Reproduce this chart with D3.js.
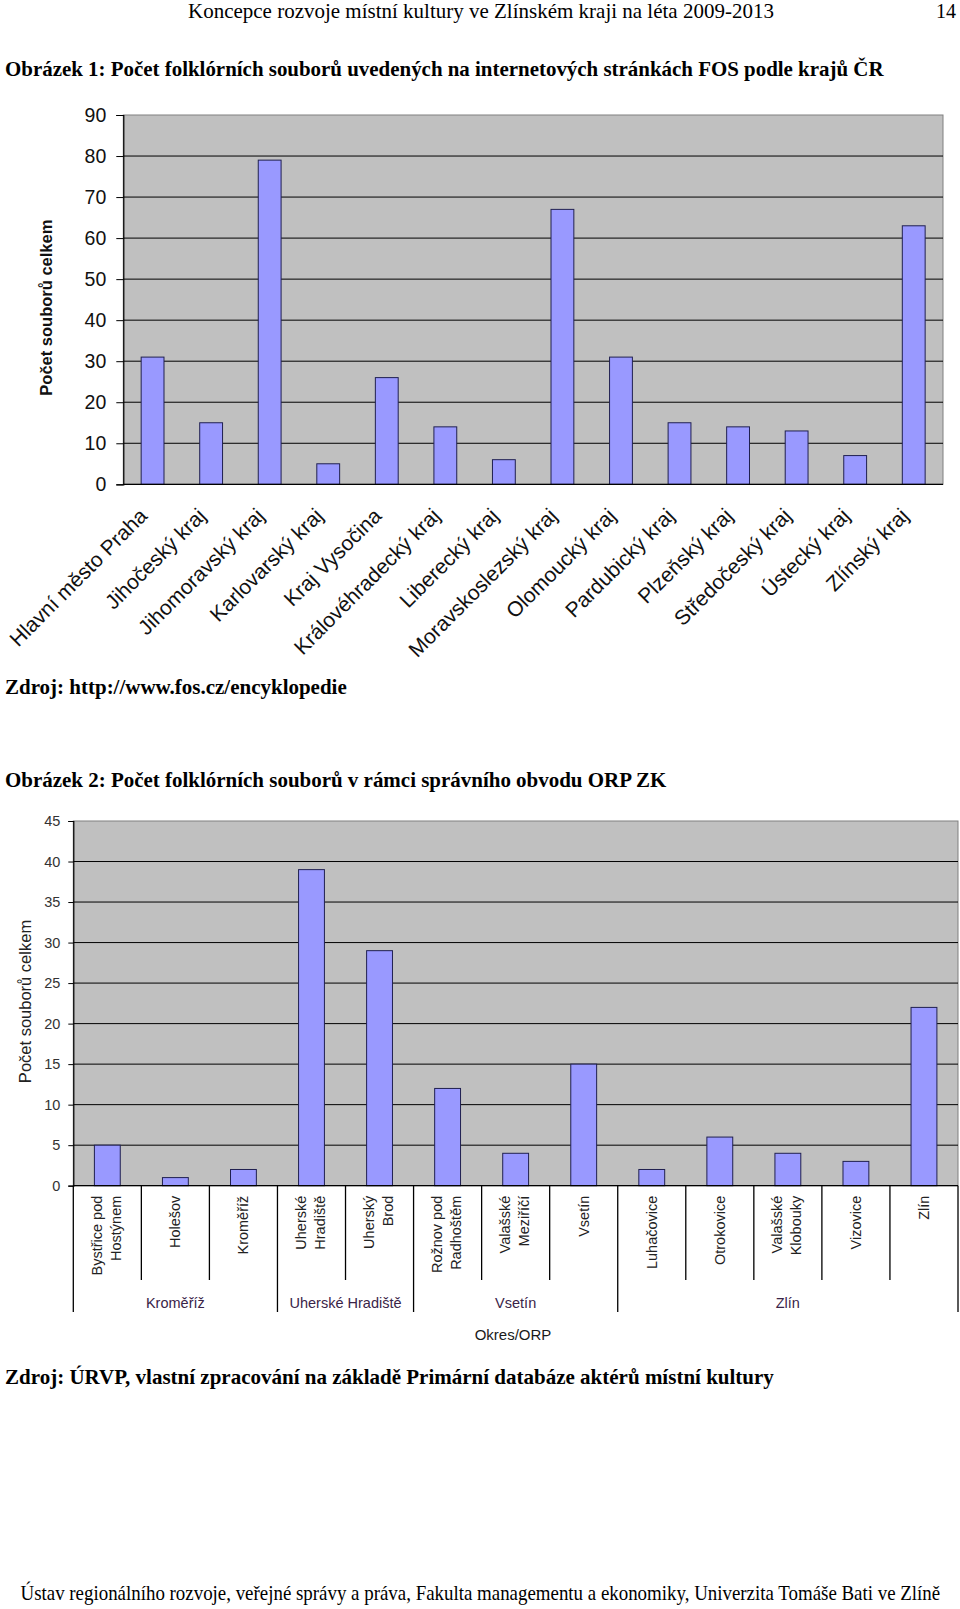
<!DOCTYPE html>
<html><head><meta charset="utf-8">
<script src="https://cdn.jsdelivr.net/npm/d3@7"></script>
<style>body{margin:0;background:#fff} svg{display:block}</style>
</head><body>
<svg id="page" width="960" height="1609"></svg>
<script>
// ---------- DATA ----------
const regions = ["Hlavní město Praha","Jihočeský kraj","Jihomoravský kraj","Karlovarský kraj","Kraj Vysočina","Královéhradecký kraj","Liberecký kraj","Moravskoslezský kraj","Olomoucký kraj","Pardubický kraj","Plzeňský kraj","Středočeský kraj","Ústecký kraj","Zlínský kraj"];
const regionCounts = [31,15,79,5,26,14,6,67,31,15,14,13,7,63];
const yTicks1 = [0,10,20,30,40,50,60,70,80,90];

const orpNames = ["Bystřice pod|Hostýnem","Holešov","Kroměříž","Uherské|Hradiště","Uherský|Brod","Rožnov pod|Radhoštěm","Valašské|Meziříčí","Vsetín","Luhačovice","Otrokovice","Valašské|Klobouky","Vizovice","Zlín"];
const orpCounts = [5,1,2,39,29,12,4,15,2,6,4,3,22];
const orpOkres = ["Kroměříž","Kroměříž","Kroměříž","Uherské Hradiště","Uherské Hradiště","Vsetín","Vsetín","Vsetín","Zlín","Zlín","Zlín","Zlín","Zlín"];
const yTicks2 = [0,5,10,15,20,25,30,35,40,45];

const pageTexts = {
  header: "Koncepce rozvoje místní kultury ve Zlínském kraji na léta 2009-2013",
  page: "14",
  title1: "Obrázek 1: Počet folklórních souborů uvedených na internetových stránkách FOS podle krajů ČR",
  src1: "Zdroj: http://www.fos.cz/encyklopedie",
  title2: "Obrázek 2: Počet folklórních souborů v rámci správního obvodu ORP ZK",
  src2: "Zdroj: ÚRVP, vlastní zpracování na základě Primární databáze aktérů místní kultury",
  footer: "Ústav regionálního rozvoje, veřejné správy a práva, Fakulta managementu a ekonomiky, Univerzita Tomáše Bati ve Zlíně"
};

// ---------- STYLE ----------
const SERIF = "'Liberation Serif','Times New Roman',serif";
const SANS = "'Liberation Sans',Arial,sans-serif";
const BAR_FILL = "#9999ff", BAR_STROKE = "#202050", PLOT_BG = "#c0c0c0";

const svg = d3.select("#page");

// serif page text, horizontally scaled to the width it has in the reference
function serifText(x, y, str, size, weight, width, anchor) {
  const t = svg.append("text").attr("x", 0).attr("y", 0)
    .attr("font-family", SERIF).attr("font-size", size)
    .attr("font-weight", weight).attr("fill", "#000")
    .attr("text-anchor", anchor || "start").text(str);
  let sx = 1;
  if (width) {
    const w0 = t.node().getComputedTextLength();
    if (w0 > 0) sx = width / w0;
  }
  t.attr("transform", `translate(${x},${y}) scale(${sx},1)`);
  return t;
}

serifText(188, 17.5, pageTexts.header, 20, "normal", 586);
serifText(956, 17.5, pageTexts.page, 20, "normal", null, "end");
serifText(5, 76, pageTexts.title1, 21, "bold", 879);
serifText(5, 694, pageTexts.src1, 21, "bold", 342);
serifText(5, 786.5, pageTexts.title2, 21, "bold", 662);
serifText(5, 1384, pageTexts.src2, 21, "bold", 769);
serifText(20.5, 1599.5, pageTexts.footer, 20, "normal", 920);

// ---------- CHART 1 ----------
(function(){
  const L = 123.3, R = 943, T = 115, B = 484.3;
  const g = svg.append("g");
  const x = d3.scaleBand().domain(regions).range([L, R]).padding(0);
  const y = d3.scaleLinear().domain([0, 90]).range([B, T]);

  g.append("rect").attr("x", L).attr("y", T).attr("width", R - L).attr("height", B - T)
    .attr("fill", PLOT_BG).attr("stroke", "#808080").attr("stroke-width", 1);

  g.selectAll("line.grid").data(yTicks1.filter(d => d > 0 && d < 90)).join("line")
    .attr("x1", L).attr("x2", R).attr("y1", d => y(d)).attr("y2", d => y(d))
    .attr("stroke", "#000").attr("stroke-width", 1);

  const bw = x.bandwidth() * 0.39;
  g.selectAll("rect.bar").data(regions).join("rect")
    .attr("x", d => x(d) + x.bandwidth() / 2 - bw / 2)
    .attr("width", bw)
    .attr("y", (d, i) => y(regionCounts[i]))
    .attr("height", (d, i) => B - y(regionCounts[i]))
    .attr("fill", BAR_FILL).attr("stroke", BAR_STROKE).attr("stroke-width", 1);

  const ay = g.append("g").attr("transform", `translate(${L},0)`)
    .call(d3.axisLeft(y).tickValues(yTicks1).tickSize(7).tickPadding(10).tickFormat(d3.format("d")));
  ay.select(".domain").attr("stroke", "#000").attr("stroke-width", 1.2);
  ay.selectAll(".tick line").attr("stroke", "#000");
  ay.selectAll(".tick text").attr("font-family", SANS).attr("font-size", 19.5).attr("fill", "#111");

  g.append("line").attr("x1", L).attr("x2", R).attr("y1", B).attr("y2", B)
    .attr("stroke", "#000").attr("stroke-width", 1.2);

  g.selectAll("text.xl").data(regions).join("text")
    .attr("transform", d => `translate(${x(d) + x.bandwidth() / 2 - 4},${B + 33}) rotate(-45)`)
    .attr("text-anchor", "end").attr("font-family", SANS).attr("font-size", 21)
    .attr("fill", "#111").text(d => d);

  g.append("text").attr("transform", `translate(52,${(T + B) / 2 + 8}) rotate(-90)`)
    .attr("text-anchor", "middle").attr("font-family", SANS).attr("font-weight", "bold")
    .attr("font-size", 16.5).attr("fill", "#111").text("Počet souborů celkem");
})();

// ---------- CHART 2 ----------
(function(){
  const L = 73.3, R = 958, T = 821, B = 1185.7;
  const g = svg.append("g");
  const x = d3.scaleBand().domain(d3.range(orpNames.length)).range([L, R]).padding(0);
  const y = d3.scaleLinear().domain([0, 45]).range([B, T]);

  g.append("rect").attr("x", L).attr("y", T).attr("width", R - L).attr("height", B - T)
    .attr("fill", PLOT_BG).attr("stroke", "#808080").attr("stroke-width", 1);

  g.selectAll("line.grid").data(yTicks2.filter(d => d > 0 && d < 45)).join("line")
    .attr("x1", L).attr("x2", R).attr("y1", d => y(d)).attr("y2", d => y(d))
    .attr("stroke", "#000").attr("stroke-width", 1);

  const bw = x.bandwidth() * 0.38;
  g.selectAll("rect.bar").data(orpCounts).join("rect")
    .attr("x", (d, i) => x(i) + x.bandwidth() / 2 - bw / 2)
    .attr("width", bw)
    .attr("y", d => y(d))
    .attr("height", d => B - y(d))
    .attr("fill", BAR_FILL).attr("stroke", BAR_STROKE).attr("stroke-width", 1);

  const ay = g.append("g").attr("transform", `translate(${L},0)`)
    .call(d3.axisLeft(y).tickValues(yTicks2).tickSize(5).tickPadding(8).tickFormat(d3.format("d")));
  ay.select(".domain").attr("stroke", "#000").attr("stroke-width", 1.2);
  ay.selectAll(".tick line").attr("stroke", "#000");
  ay.selectAll(".tick text").attr("font-family", SANS).attr("font-size", 14.5).attr("fill", "#333");

  g.append("line").attr("x1", L).attr("x2", R).attr("y1", B).attr("y2", B)
    .attr("stroke", "#000").attr("stroke-width", 1.2);

  // separators between categories
  const n = orpNames.length;
  const bounds = d3.range(n + 1);
  const isGroupEdge = i => i === 0 || i === n || orpOkres[i] !== orpOkres[i - 1];
  g.selectAll("line.sep").data(bounds).join("line")
    .attr("x1", i => i < n ? x(i) : R).attr("x2", i => i < n ? x(i) : R)
    .attr("y1", B).attr("y2", i => isGroupEdge(i) ? 1312 : 1280)
    .attr("stroke", "#000").attr("stroke-width", 1.3);

  // category labels (rotated)
  const lh = 19;
  orpNames.forEach((name, i) => {
    const lines = name.split("|");
    const cx = x(i) + x.bandwidth() / 2;
    const t = g.append("text")
      .attr("transform", `translate(${cx},${B + 10}) rotate(-90)`)
      .attr("text-anchor", "end").attr("font-family", SANS).attr("font-size", 14.5)
      .attr("fill", "#222");
    lines.forEach((ln, k) => {
      const off = 5 - (lines.length - 1) * lh / 2 - (lines.length > 1 ? 1 : 0) + k * lh;
      t.append("tspan").attr("x", 0).attr("y", off).text(ln);
    });
  });

  // group labels
  const groups = d3.groups(d3.range(n), i => orpOkres[i]);
  g.selectAll("text.grp").data(groups).join("text")
    .attr("x", d => (x(d[1][0]) + x(d[1][d[1].length - 1]) + x.bandwidth()) / 2)
    .attr("y", 1308).attr("text-anchor", "middle")
    .attr("font-family", SANS).attr("font-size", 14.5).attr("fill", "#3a2448")
    .text(d => d[0]);

  g.append("text").attr("x", 513).attr("y", 1340).attr("text-anchor", "middle")
    .attr("font-family", SANS).attr("font-size", 15).attr("fill", "#1a1a1a").text("Okres/ORP");

  g.append("text").attr("transform", `translate(31,${1001.5}) rotate(-90)`)
    .attr("text-anchor", "middle").attr("font-family", SANS)
    .attr("font-size", 16.5).attr("fill", "#222").text("Počet souborů celkem");
})();
</script>
</body></html>
